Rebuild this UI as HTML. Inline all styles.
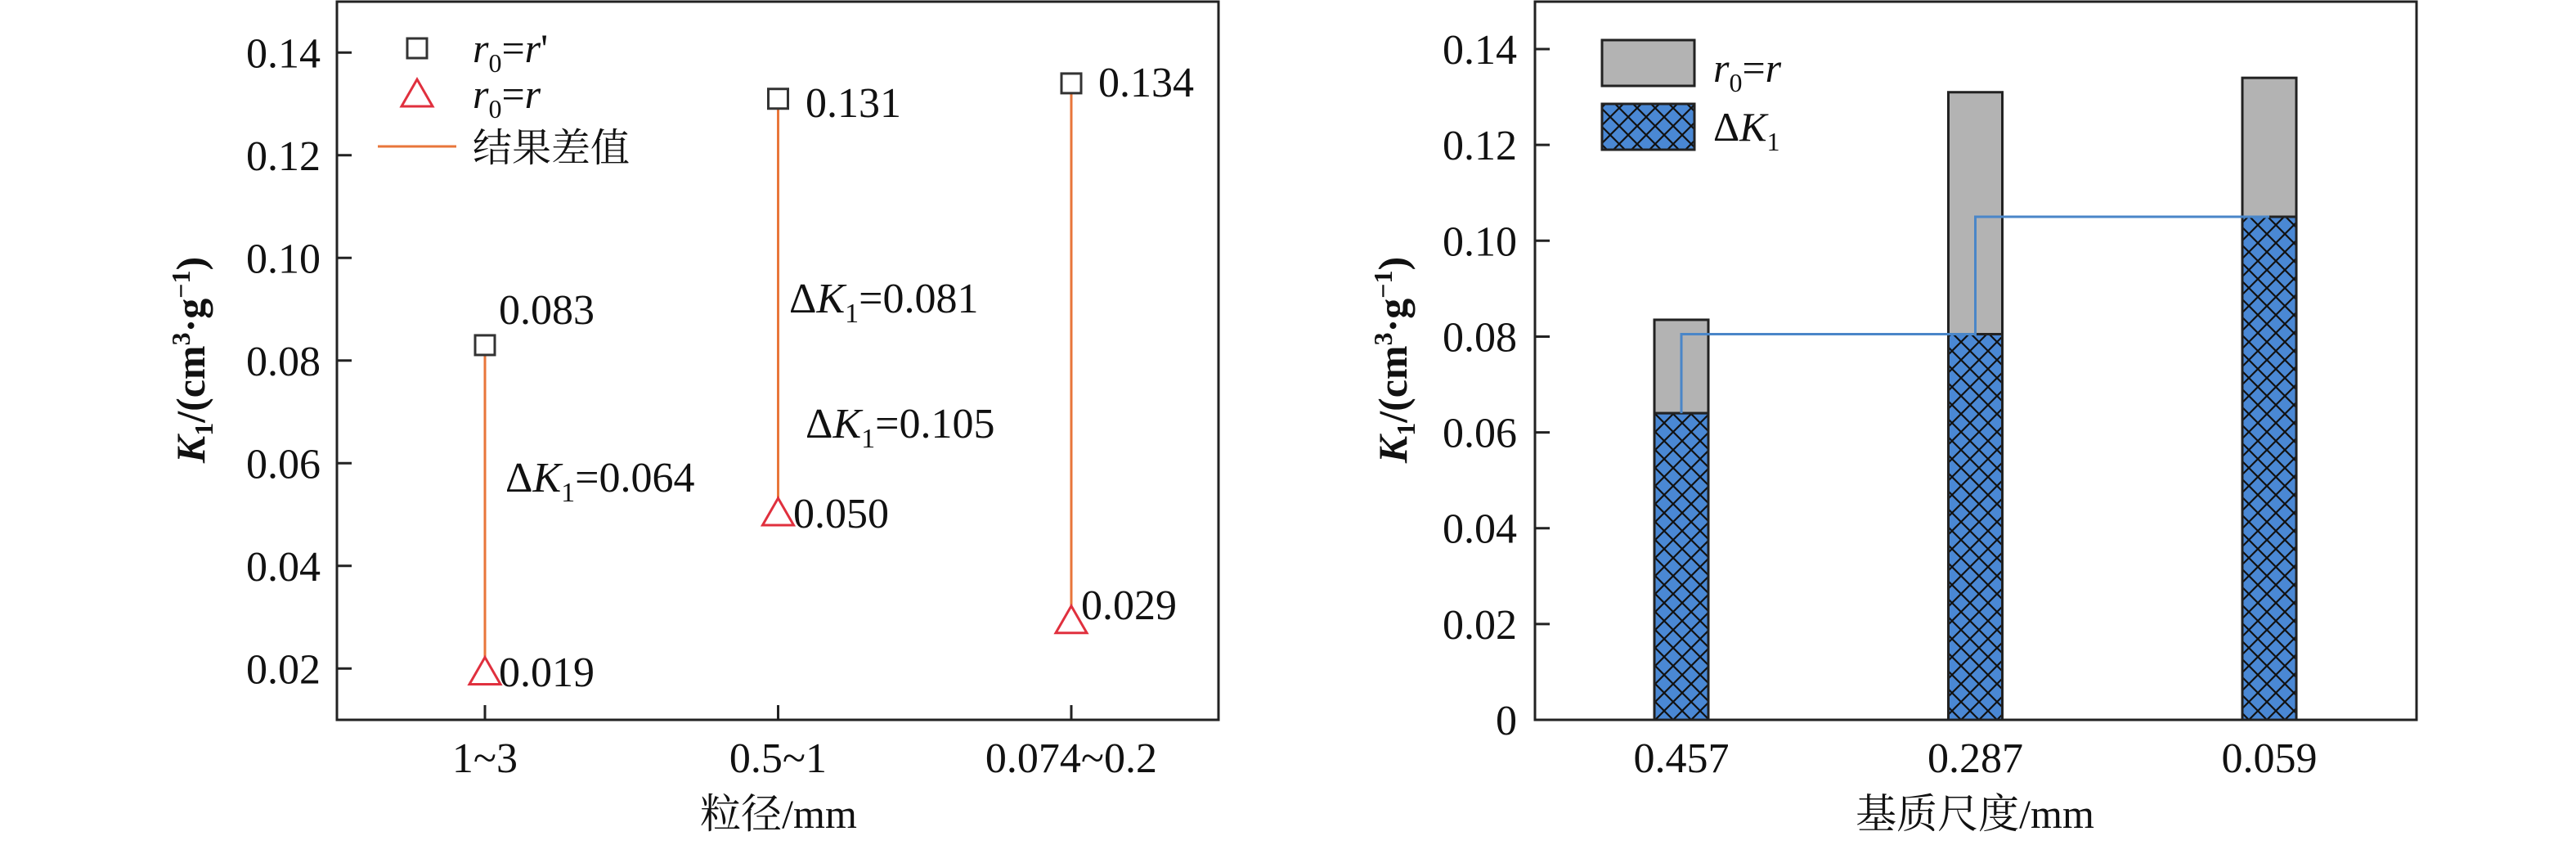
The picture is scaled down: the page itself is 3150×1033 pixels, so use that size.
<!DOCTYPE html>
<html><head><meta charset="utf-8"><style>
html,body{margin:0;padding:0;background:#fff;}
svg{display:block;font-family:"Liberation Serif","Noto Serif CJK SC",serif;}
</style></head><body>
<svg id="c" width="3150" height="1033" viewBox="0 0 3150 1033" xmlns="http://www.w3.org/2000/svg">
<defs>
<pattern id="hatch" width="22" height="22" patternUnits="userSpaceOnUse">
<rect width="22" height="22" fill="#4a88d4"/>
<path d="M0,0 L22,22 M22,0 L0,22 M-11,11 L11,33 M11,-11 L33,11 M11,-11 L-11,11 M33,11 L11,33" stroke="#111" stroke-width="2.2"/>
</pattern>
</defs>
<g id="left"></g>
<g id="right"></g>
</svg>
<script>
const NS="http://www.w3.org/2000/svg";
// Left chart data
const leftCats=["1~3","0.5~1","0.074~0.2"];
const squareVals=[0.083,0.131,0.134];
const triVals=[0.019,0.050,0.029];
const leftTicks=[0.02,0.04,0.06,0.08,0.10,0.12,0.14];
const leftTickLabels=["0.02","0.04","0.06","0.08","0.10","0.12","0.14"];
const deltaLabels=["ΔK1=0.064","ΔK1=0.081","ΔK1=0.105"];
// Right chart data
const rightCats=["0.457","0.287","0.059"];
const totalVals=[0.0835,0.131,0.134];
const deltaVals=[0.064,0.0805,0.105];
const rightTicks=[0,0.02,0.04,0.06,0.08,0.10,0.12,0.14];
const rightTickLabels=["0","0.02","0.04","0.06","0.08","0.10","0.12","0.14"];

function el(tag,attrs,parent,text){const e=document.createElementNS(NS,tag);for(const k in attrs)e.setAttribute(k,attrs[k]);if(text!==undefined)e.textContent=text;parent.appendChild(e);return e;}

// ---------- LEFT ----------
const L=document.getElementById('left');
const lx0=412,lx1=1490,ly0=2,ly1=880;
const lyS=v=>880-(v-0.01)*6275;
const lxS=i=>593+i*358.5;
let f=el('rect',{x:lx0,y:ly0,width:lx1-lx0,height:ly1-ly0,fill:'none',stroke:'#222','stroke-width':3},L);

leftTicks.forEach((v,i)=>{
 const t=el('line',{x1:lx0,x2:lx0+18,y1:lyS(v),y2:lyS(v),stroke:'#222','stroke-width':3},L);
 
 const tx=el('text',{x:392,y:lyS(v)+18,'font-size':52,'text-anchor':'end',fill:'#111'},L,leftTickLabels[i]);
 
});
leftCats.forEach((c,i)=>{
 const t=el('line',{x1:lxS(i),x2:lxS(i),y1:ly1,y2:ly1-18,stroke:'#222','stroke-width':3},L);
 
 const tx=el('text',{x:lxS(i),y:944,'font-size':52,'text-anchor':'middle',fill:'#111'},L,c);
 
});
let xt=el('text',{x:952,y:1012,'font-size':50,'text-anchor':'middle',fill:'#111'},L,'粒径/mm');

function yTitle(parent,x,y,name){
 const t=el('text',{x:0,y:0,'font-size':50,'font-weight':'bold','text-anchor':'middle',fill:'#111',transform:`translate(${x},${y}) rotate(-90)`},parent);
 t.innerHTML='<tspan font-style="italic">K</tspan><tspan font-size="32" dy="10">1</tspan><tspan dy="-10">/(cm</tspan><tspan font-size="32" dy="-18">3</tspan><tspan dy="18">·g</tspan><tspan font-size="32" dy="-18">−1</tspan><tspan dy="18">)</tspan>';
 
}
yTitle(L,250,440,'left-y-axis-title');
// lines
squareVals.forEach((v,i)=>{
 const ln=el('line',{x1:lxS(i),x2:lxS(i),y1:lyS(v),y2:lyS(triVals[i]),stroke:'#e8763a','stroke-width':3},L);
 
});
squareVals.forEach((v,i)=>{
 const s=el('rect',{x:lxS(i)-12,y:lyS(v)-12,width:24,height:24,fill:'#fff',stroke:'#333','stroke-width':3},L);
 
});
triVals.forEach((v,i)=>{
 const x=lxS(i),y=lyS(v);
 const p=el('polygon',{points:`${x},${y-20} ${x-19},${y+13} ${x+19},${y+13}`,fill:'#fff',stroke:'#e0303e','stroke-width':3},L);
 
});
// value labels
const sqLabPos=[[610,396],[985,143],[1343,118]];
squareVals.forEach((v,i)=>{const t=el('text',{x:sqLabPos[i][0],y:sqLabPos[i][1],'font-size':52,fill:'#111'},L,v.toFixed(3));});
const trLabPos=[[610,839],[970,645],[1322,757]];
triVals.forEach((v,i)=>{const t=el('text',{x:trLabPos[i][0],y:trLabPos[i][1],'font-size':52,fill:'#111'},L,v.toFixed(3));});
const dPos=[[618,601],[965,382],[985,535]];
deltaLabels.forEach((s,i)=>{
 const t=el('text',{x:dPos[i][0],y:dPos[i][1],'font-size':52,fill:'#111'},L);
 t.innerHTML='Δ<tspan font-style="italic">K</tspan><tspan font-size="34" dy="12">1</tspan><tspan dy="-12">'+s.slice(3)+'</tspan>';
 
});
// legend
let lg=el('g',{},L);
el('rect',{x:498,y:47,width:24,height:24,fill:'#fff',stroke:'#333','stroke-width':3},lg);
let t1=el('text',{x:578,y:76,'font-size':50,fill:'#111'},lg);t1.innerHTML='<tspan font-style="italic">r</tspan><tspan font-size="32" dy="12">0</tspan><tspan dy="-12">=</tspan><tspan font-style="italic">r</tspan>\'';
el('polygon',{points:'510,97 491,130 529,130',fill:'#fff',stroke:'#e0303e','stroke-width':3},lg);
let t2=el('text',{x:578,y:132,'font-size':50,fill:'#111'},lg);t2.innerHTML='<tspan font-style="italic">r</tspan><tspan font-size="32" dy="12">0</tspan><tspan dy="-12">=</tspan><tspan font-style="italic">r</tspan>';
el('line',{x1:462,x2:558,y1:179,y2:179,stroke:'#e8763a','stroke-width':3},lg);
el('text',{x:578,y:197,'font-size':48,fill:'#111'},lg,'结果差值');

// ---------- RIGHT ----------
const R=document.getElementById('right');
const rx0=1877,rx1=2955,ry0=2,ry1=880;
const ryS=v=>880-v*5857;
const rxS=i=>2056+i*359.5;
const bw=66;
let f2=el('rect',{x:rx0,y:ry0,width:rx1-rx0,height:ry1-ry0,fill:'none',stroke:'#222','stroke-width':3},R);

rightTicks.forEach((v,i)=>{
 const t=el('line',{x1:rx0,x2:rx0+18,y1:ryS(v),y2:ryS(v),stroke:'#222','stroke-width':3},R);
 
 const tx=el('text',{x:1855,y:ryS(v)+18,'font-size':52,'text-anchor':'end',fill:'#111'},R,rightTickLabels[i]);
 
});
rightCats.forEach((c,i)=>{
 const tx=el('text',{x:rxS(i),y:944,'font-size':52,'text-anchor':'middle',fill:'#111'},R,c);
 
});
let xt2=el('text',{x:2415,y:1012,'font-size':50,'text-anchor':'middle',fill:'#111'},R,'基质尺度/mm');

yTitle(R,1720,440,'right-y-axis-title');
totalVals.forEach((v,i)=>{
 const g=el('rect',{x:rxS(i)-bw/2,y:ryS(v),width:bw,height:ryS(deltaVals[i])-ryS(v),fill:'#b3b3b3',stroke:'#222','stroke-width':3},R);
 
 const b=el('rect',{x:rxS(i)-bw/2,y:ryS(deltaVals[i]),width:bw,height:ry1-ryS(deltaVals[i]),fill:'url(#hatch)',stroke:'#222','stroke-width':3},R);
 
});
let d='M'+rxS(0)+','+ryS(deltaVals[0]);
for(let i=1;i<deltaVals.length;i++){d+=' L'+rxS(i-1)+','+ryS(deltaVals[i])+' L'+rxS(i)+','+ryS(deltaVals[i]);}
const sl=el('path',{d:d,fill:'none',stroke:'#4a86c8','stroke-width':3},R);

let lg2=el('g',{},R);
el('rect',{x:1959,y:49,width:113,height:56,fill:'#b3b3b3',stroke:'#222','stroke-width':3},lg2);
let t3=el('text',{x:2095,y:100,'font-size':50,fill:'#111'},lg2);t3.innerHTML='<tspan font-style="italic">r</tspan><tspan font-size="32" dy="12">0</tspan><tspan dy="-12">=</tspan><tspan font-style="italic">r</tspan>';
el('rect',{x:1959,y:127,width:113,height:56,fill:'url(#hatch)',stroke:'#222','stroke-width':3},lg2);
let t4=el('text',{x:2095,y:172,'font-size':50,fill:'#111'},lg2);t4.innerHTML='Δ<tspan font-style="italic">K</tspan><tspan font-size="32" dy="12">1</tspan>';
</script>
</body></html>
